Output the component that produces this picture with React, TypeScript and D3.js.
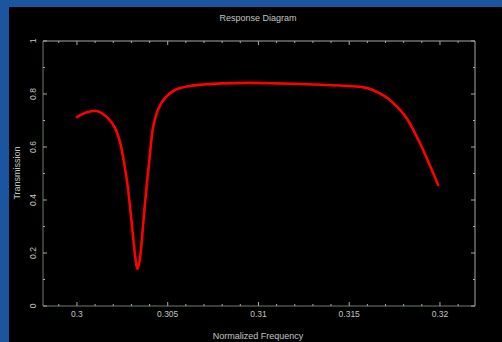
import React from "react";
import * as d3 from "d3";

const freq = [0.3, 0.3005, 0.3011, 0.30171, 0.30209, 0.30237, 0.30259, 0.30281, 0.30297, 0.30314, 0.30325, 0.30333, 0.30344, 0.30355, 0.30369, 0.30383, 0.30399, 0.30419, 0.30446, 0.30485, 0.3054, 0.30622, 0.307, 0.308, 0.3095, 0.311, 0.313, 0.315, 0.3158, 0.3163, 0.3166, 0.3171, 0.3178, 0.3182, 0.3189, 0.3199];
const trans = [0.713, 0.73, 0.736, 0.709, 0.672, 0.619, 0.543, 0.445, 0.343, 0.23, 0.166, 0.14, 0.166, 0.23, 0.343, 0.445, 0.551, 0.672, 0.74, 0.785, 0.815, 0.83, 0.836, 0.84, 0.842, 0.84, 0.836, 0.83, 0.825, 0.815, 0.805, 0.785, 0.74, 0.705, 0.614, 0.457];
const xMajor = [0.3, 0.305, 0.31, 0.315, 0.32];
const xMajorLabels = ["0.3", "0.305", "0.31", "0.315", "0.32"];
const yMajor = [0, 0.2, 0.4, 0.6, 0.8, 1];
const yMajorLabels = ["0", "0.2", "0.4", "0.6", "0.8", "1"];

export default function App() {
  const W = 502, H = 342;
  const L = 43, R = 475, T = 41, B = 306;
  const x = d3.scaleLinear().domain([0.29813, 0.32193]).range([L, R]);
  const y = d3.scaleLinear().domain([0, 1]).range([B, T]);
  const data = freq.map((f, i) => [f, trans[i]] as [number, number]);
  const line = d3.line<[number, number]>().x(d => x(d[0])).y(d => y(d[1])).curve(d3.curveCatmullRom.alpha(0.5));
  const xMinor = d3.range(0.299, 0.3215, 0.001).filter(v => !xMajor.some(m => Math.abs(m - v) < 1e-6));
  const yMinor = d3.range(0.1, 1, 0.2);
  const font = "Liberation Sans, Arial, sans-serif";
  const tc = "#c4c4c4";
  const axL = "#6e7d6e";
  const axR = "#a8a8a8";
  return (
    <svg width={W} height={H} style={{ position: "absolute", left: 0, top: 0 }}>
      <rect x={0} y={0} width={W} height={H} fill="#000" />
      <rect x={0} y={0} width={W} height={7} fill="#1b55a0" />
      <rect x={0} y={0} width={9} height={H} fill="#1b55a0" />
      <line x1={L} y1={T} x2={R} y2={T} stroke={axR} strokeWidth={1} />
      <line x1={R} y1={T} x2={R} y2={B} stroke={axR} strokeWidth={1} />
      <line x1={L} y1={B} x2={R} y2={B} stroke={axL} strokeWidth={1} />
      <line x1={L} y1={T} x2={L} y2={B} stroke={axL} strokeWidth={1} />
      {xMajor.map(v => (
        <g key={"xm" + v}>
          <line x1={x(v)} x2={x(v)} y1={B} y2={B - 4} stroke={axR} />
          <line x1={x(v)} x2={x(v)} y1={T} y2={T + 4} stroke={axR} />
        </g>
      ))}
      {xMinor.map(v => (
        <g key={"xn" + v}>
          <line x1={x(v)} x2={x(v)} y1={B} y2={B - 2} stroke={axR} />
          <line x1={x(v)} x2={x(v)} y1={T} y2={T + 2} stroke={axR} />
        </g>
      ))}
      {yMajor.map(v => (
        <g key={"ym" + v}>
          <line x1={L} x2={L + 4} y1={y(v)} y2={y(v)} stroke={axR} />
          <line x1={R} x2={R - 4} y1={y(v)} y2={y(v)} stroke={axR} />
        </g>
      ))}
      {yMinor.map(v => (
        <g key={"yn" + v}>
          <line x1={L} x2={L + 2} y1={y(v)} y2={y(v)} stroke={axR} />
          <line x1={R} x2={R - 2} y1={y(v)} y2={y(v)} stroke={axR} />
        </g>
      ))}
      {xMajor.map((v, i) => (
        <text key={"xl" + v} x={x(v)} y={317} fill={tc} fontSize={8.5} fontFamily={font} textAnchor="middle">{xMajorLabels[i]}</text>
      ))}
      {yMajor.map((v, i) => (
        <text key={"yl" + v} transform={`translate(36,${y(v)}) rotate(-90)`} fill={tc} fontSize={8.5} fontFamily={font} textAnchor="middle">{yMajorLabels[i]}</text>
      ))}
      <text x={258} y={21} fill={tc} fontSize={9} fontFamily={font} textAnchor="middle">Response Diagram</text>
      <text x={258} y={339} fill={tc} fontSize={9} fontFamily={font} textAnchor="middle">Normalized Frequency</text>
      <text transform={`translate(20,173) rotate(-90)`} fill={tc} fontSize={9} fontFamily={font} textAnchor="middle">Transmission</text>
      <path d={line(data) || ""} fill="none" stroke="#ff0000" strokeWidth={2.6} strokeLinejoin="round" strokeLinecap="round" />
    </svg>
  );
}
